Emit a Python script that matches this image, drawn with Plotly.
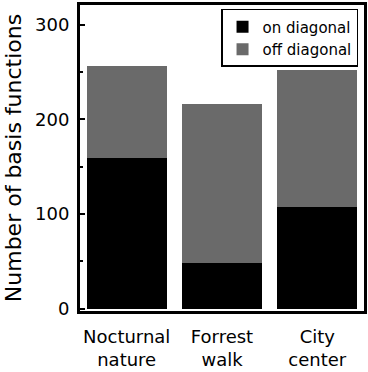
import plotly.graph_objects as go

categories = ["Nocturnal<br>nature", "Forrest<br>walk", "City<br>center"]
on_diagonal = [159, 48, 107]
off_diagonal = [98, 168, 145]
y_ticks = [0, 100, 200, 300]

FONT = "DejaVu Sans"

fig = go.Figure()
fig.add_trace(go.Bar(x=categories, y=on_diagonal, name="on diagonal",
                     marker=dict(color="#000000", line=dict(width=0)), width=0.84))
fig.add_trace(go.Bar(x=categories, y=off_diagonal, name="off diagonal",
                     marker=dict(color="#6a6a6a", line=dict(width=0)), width=0.84))

fig.update_layout(
    width=368, height=372,
    barmode="stack",
    margin=dict(l=80, r=4, t=5, b=61, autoexpand=False),
    paper_bgcolor="white", plot_bgcolor="white",
    font=dict(family=FONT, color="black"),
    showlegend=True,
    legend=dict(x=0.979, y=0.987, xanchor="right", yanchor="top",
                bgcolor="white", bordercolor="black", borderwidth=1.5,
                font=dict(size=15, family=FONT), traceorder="normal",
                itemwidth=30, tracegroupgap=2),
)
fig.update_xaxes(
    type="category", range=[-0.49, 2.49], automargin=False,
    showline=True, linecolor="black", linewidth=3, mirror=True,
    ticks="", showgrid=False, tickfont=dict(size=18, family=FONT),
    ticklabelstandoff=7,
)
fig.update_yaxes(
    range=[-2.5, 321], tickvals=y_ticks, automargin=False,
    showline=True, linecolor="black", linewidth=3, mirror=True,
    ticks="inside", ticklen=5, tickwidth=1.5, tickcolor="black",
    minor=dict(dtick=50, tick0=0, ticks="inside", ticklen=3, tickwidth=1.5, tickcolor="black", showgrid=False),
    showgrid=False, zeroline=False,
    tickfont=dict(size=18, family=FONT), ticklabelstandoff=4,
    title=dict(text="Number of basis functions", font=dict(size=22, family=FONT), standoff=8),
)

fig.write_html("out.html", config={"displayModeBar": False},
               post_script="document.body.style.margin='0';document.body.style.overflow='hidden';")
